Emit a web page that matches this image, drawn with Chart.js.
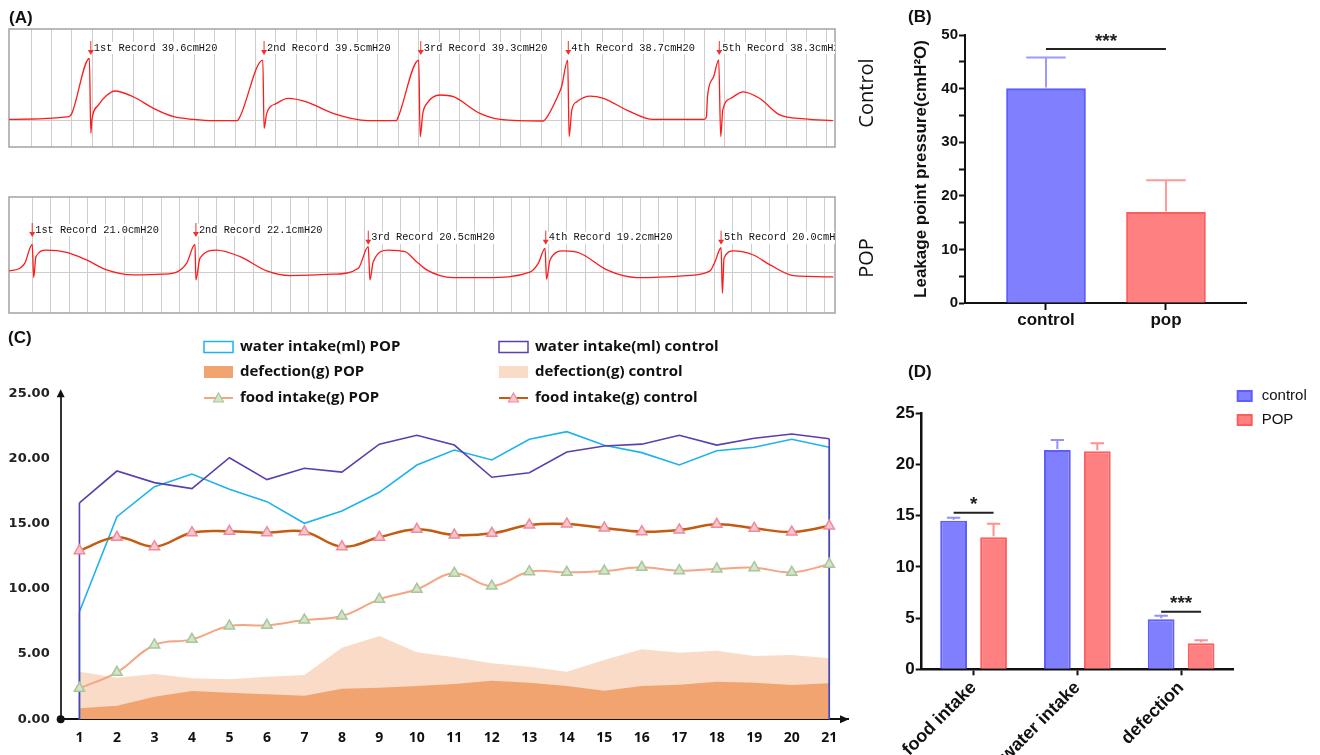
<!DOCTYPE html>
<html lang="en">
<head>
<meta charset="UTF-8">
<title>Leakage point pressure and daily intake</title>
<style>
  body { margin: 0; background: #fff; }
  #wrap { position: relative; width: 1320px; height: 755px; overflow: hidden; font-family: "Liberation Sans", Arial, sans-serif; }
  canvas { position: absolute; }
  .tag { position: absolute; font-weight: bold; font-size: 17px; color: #111; line-height: 20px; }
  .side { position: absolute; font-family: "Open Sans", sans-serif; font-size: 20px; color: #111; white-space: nowrap; transform: translate(-50%, -50%) rotate(-90deg); }
</style>
</head>
<body>
<div id="wrap">
  <canvas id="traceCtl" width="850" height="160" style="left:0;top:0"></canvas>
  <canvas id="tracePop" width="850" height="140" style="left:0;top:185px"></canvas>
  <canvas id="lpp" width="470" height="330" style="left:850px;top:0"></canvas>
  <canvas id="daily" width="860" height="425" style="left:0;top:330px"></canvas>
  <canvas id="means" width="460" height="395" style="left:860px;top:360px"></canvas>
  <div class="tag" style="left:9px;top:8px">(A)</div>
  <div class="tag" style="left:908px;top:7px">(B)</div>
  <div class="tag" style="left:8px;top:328px">(C)</div>
  <div class="tag" style="left:908px;top:362px">(D)</div>
  <div class="side" style="left:865px;top:93px">Control</div>
  <div class="side" style="left:865px;top:258px">POP</div>
</div>

<script src="https://cdn.jsdelivr.net/npm/chart.js"></script>
<script>
  // ---- (A) cystometry traces: [time in grid divisions, cmH2O]
  const ctlTrace = [
    [-1.08, 1.0], [1.86, 2.7], [2.0, 4.8], [2.86, 39.4], [2.93, -7.7], [2.98, 0.6], [3.3, 10], [3.7, 16], [4.1, 18.9],
    [5.0, 15.3], [6.0, 8.0], [7.0, 2.7], [7.96, 1.0], [8.94, 0.2], [10.1, 0.2],
    [10.24, 2.7], [11.36, 38.4], [11.42, -4.6], [11.55, 4.8], [12.04, 11.1], [12.6, 14.3], [13.5, 12.1], [14.8, 4.8],
    [16.5, 0.2], [17.9, 0.2],
    [18.0, 2.7], [19.0, 38.4], [19.07, -9.9], [19.2, 4.8], [19.4, 11.1], [20.05, 16.4], [20.7, 15.3], [22.0, 4.8],
    [23.0, 1.0], [25.1, 0],
    [25.3, 2.7], [25.8, 15.3], [26.0, 21.6], [26.3, 38.4], [26.37, -9.9], [26.5, 6.9], [26.75, 12.1], [27.4, 15.7],
    [28.05, 14.3], [29.2, 6.9], [30.5, 1.0], [33.0, 1.0],
    [33.1, 2.7], [33.15, 15.3], [33.45, 27.9], [33.7, 38.4], [33.8, -9.9], [33.9, 6.9], [34.3, 14.3], [34.9, 18.4],
    [35.7, 14.3], [36.7, 3.8], [37.9, 1.3], [39.3, 0.2]
  ];
  const popTrace = [
    [-1.25, 1.3], [-0.67, 3.2], [-0.4, 7.0], [0, 21.0], [0.08, -3.7], [0.2, 11.9], [0.78, 16.8], [1.87, 15.1],
    [2.95, 9.4], [4.04, 2.0], [5.48, -1.7], [7.1, -1.2], [7.83, 0.3],
    [8.38, 7.0], [8.83, 21.0], [8.88, -5.4], [9.1, 10.7], [10.0, 16.8], [11.27, 11.9], [12.72, 1.3], [13.98, -2.2],
    [16.33, -1.2], [17.69, 3.2],
    [18.23, 19.3], [18.32, -5.4], [18.5, 8.1], [19.32, 16.8], [20.22, 15.6], [20.85, 8.1], [21.4, 2.0], [22.12, -2.2],
    [22.84, -3.7], [24.66, -3.7], [27.0, 0.3],
    [27.46, 7.0], [27.82, 18.1], [27.9, -4.9], [28.09, 9.4], [28.81, 16.1], [29.72, 14.4], [31.17, 2.0], [32.8, -3.7],
    [35.5, -2.2], [36.77, 1.3],
    [37.04, 8.1], [37.37, 18.5], [37.44, -15.3], [37.53, 10.7], [38.04, 16.1], [39.12, 13.1], [40.03, 5.7],
    [41.29, -2.2], [43.46, -3.2]
  ];
  const ctlRecordAt = [2.93, 11.42, 19.1, 26.33, 33.73];
  const ctlRecords = ['1st Record 39.6cmH20', '2nd Record 39.5cmH20', '3rd Record 39.3cmH20', '4th Record 38.7cmH20', '5th Record 38.3cmH20'];
  const popRecordAt = [0, 8.88, 18.23, 27.86, 37.37];
  const popRecords = ['1st Record 21.0cmH20', '2nd Record 22.1cmH20', '3rd Record 20.5cmH20', '4th Record 19.2cmH20', '5th Record 20.0cmH20'];

  // ---- (B) leakage point pressure
  const lppGroups = ['control', 'pop'];
  const lppMean = [40.0, 16.9];
  const lppErr = [5.8, 6.0];

  // ---- (C) daily records
  const days = [1, 2, 3, 4, 5, 6, 7, 8, 9, 10, 11, 12, 13, 14, 15, 16, 17, 18, 19, 20, 21];
  const waterCtl = [16.6, 19.04, 18.15, 17.69, 20.06, 18.38, 19.25, 18.96, 21.1, 21.78, 21.03, 18.56, 18.91, 20.5, 20.96, 21.1, 21.78, 21.03, 21.55, 21.88, 21.52];
  const waterPop = [8.25, 15.54, 17.84, 18.81, 17.64, 16.69, 15.03, 15.97, 17.41, 19.5, 20.65, 19.89, 21.47, 22.06, 21.01, 20.45, 19.5, 20.6, 20.86, 21.47, 20.86];
  const foodCtl = [12.93, 13.96, 13.24, 14.31, 14.42, 14.31, 14.39, 13.24, 13.96, 14.57, 14.13, 14.26, 14.9, 14.98, 14.67, 14.39, 14.52, 14.95, 14.65, 14.36, 14.82];
  const foodPop = [2.38, 3.6, 5.7, 6.13, 7.15, 7.21, 7.61, 7.92, 9.2, 9.97, 11.2, 10.22, 11.32, 11.27, 11.37, 11.66, 11.4, 11.53, 11.63, 11.27, 11.89];
  const defCtl = [3.65, 3.19, 3.47, 3.14, 3.07, 3.27, 3.4, 5.49, 6.39, 5.14, 4.75, 4.29, 4.03, 3.65, 4.55, 5.37, 5.11, 5.26, 4.85, 4.93, 4.68];
  const defPop = [0.84, 1.04, 1.73, 2.17, 2.04, 1.92, 1.81, 2.35, 2.42, 2.55, 2.71, 2.96, 2.81, 2.55, 2.19, 2.55, 2.65, 2.88, 2.81, 2.63, 2.76];

  // ---- (D) means
  const measures = ['food intake', 'water intake', 'defection'];
  const ctlMean = [14.51, 21.42, 4.88];
  const ctlErr = [0.29, 0.97, 0.35];
  const popMean = [12.89, 21.29, 2.54];
  const popErr = [1.33, 0.78, 0.29];

  Chart.defaults.font.family = '"Liberation Sans", Arial, sans-serif';
  Chart.defaults.color = '#111';
  Chart.defaults.animation = false;
  Chart.defaults.events = [];
  Chart.defaults.plugins.legend.display = false;
  Chart.defaults.plugins.tooltip.enabled = false;

  /* plugins */
  const boxPlugin = {
    id: 'box',
    beforeDatasetsDraw(chart) {
      const { ctx, chartArea: a } = chart;
      ctx.save();
      ctx.strokeStyle = '#a3a3a3';
      ctx.lineWidth = 1.5;
      ctx.strokeRect(a.left, a.top, a.right - a.left, a.bottom - a.top);
      ctx.restore();
    }
  };

  const recordPlugin = {
    id: 'records',
    afterDatasetsDraw(chart, args, opts) {
      const { ctx, chartArea: a, scales: { x } } = chart;
      ctx.save();
      ctx.beginPath();
      ctx.rect(a.left, a.top, a.right - a.left, a.bottom - a.top);
      ctx.clip();
      ctx.font = '10.3px "Liberation Mono", monospace';
      ctx.textBaseline = 'middle';
      opts.at.forEach((v, i) => {
        const px = x.getPixelForValue(v), py = opts.rowY[i];
        const w = ctx.measureText(opts.text[i]).width;
        ctx.fillStyle = '#fff';
        ctx.fillRect(px + 2, py - 6, w + 3, 12);
        ctx.fillStyle = '#111';
        ctx.fillText(opts.text[i], px + 3, py);
        ctx.strokeStyle = '#f03030';
        ctx.fillStyle = '#f03030';
        ctx.lineWidth = 1;
        ctx.beginPath(); ctx.moveTo(px, py - 7); ctx.lineTo(px, py + 4); ctx.stroke();
        ctx.beginPath(); ctx.moveTo(px - 3, py + 2); ctx.lineTo(px, py + 7); ctx.lineTo(px + 3, py + 2); ctx.closePath(); ctx.fill();
      });
      ctx.restore();
    }
  };

  const errPlugin = {
    id: 'errbars',
    afterDatasetsDraw(chart, args, opts) {
      const { ctx, scales: { y } } = chart;
      ctx.save();
      ctx.lineWidth = 2;
      chart.data.datasets.forEach((ds, di) => {
        chart.getDatasetMeta(di).data.forEach((bar, i) => {
          const v = ds.data[i], mean = typeof v === 'object' ? v.y : v;
          const top = y.getPixelForValue(mean + opts.err[di][i]);
          const half = bar.width / 4;
          ctx.strokeStyle = opts.color[di][i];
          ctx.beginPath();
          ctx.moveTo(bar.x, bar.y - 1); ctx.lineTo(bar.x, top);
          ctx.moveTo(bar.x - half, top); ctx.lineTo(bar.x + half, top);
          ctx.stroke();
        });
      });
      ctx.restore();
    }
  };

  const sigPlugin = {
    id: 'sig',
    afterDatasetsDraw(chart, args, opts) {
      const { ctx, scales: { y } } = chart;
      ctx.save();
      opts.marks.forEach(m => {
        const a = chart.getDatasetMeta(m.a[0]).data[m.a[1]];
        const b = chart.getDatasetMeta(m.b[0]).data[m.b[1]];
        const py = y.getPixelForValue(m.y);
        ctx.strokeStyle = '#222';
        ctx.lineWidth = 2;
        ctx.beginPath(); ctx.moveTo(a.x, py); ctx.lineTo(b.x, py); ctx.stroke();
        ctx.fillStyle = '#222';
        ctx.font = 'bold 19px "Liberation Sans"';
        ctx.textAlign = 'center';
        ctx.textBaseline = 'bottom';
        ctx.fillText(m.text, (a.x + b.x) / 2, py + 2);
      });
      ctx.restore();
    }
  };

  // outline edges of the water "areas" down to zero
  const edgePlugin = {
    id: 'edges',
    afterDatasetDraw(chart, args) {
      const ds = chart.data.datasets[args.index];
      if (!ds.edges) return;
      const { ctx, scales: { y } } = chart;
      const y0 = y.getPixelForValue(0);
      const pts = args.meta.data;
      ctx.save();
      ctx.strokeStyle = ds.borderColor;
      ctx.lineWidth = ds.borderWidth;
      [pts[0], pts[pts.length - 1]].forEach(p => {
        ctx.beginPath(); ctx.moveTo(p.x, p.y); ctx.lineTo(p.x, y0); ctx.stroke();
      });
      ctx.restore();
    }
  };

  const axisDeco = {
    id: 'axisDeco',
    afterDraw(chart) {
      const { ctx, chartArea: a } = chart;
      ctx.save();
      ctx.fillStyle = '#111';
      ctx.beginPath(); ctx.moveTo(a.left, a.top - 4); ctx.lineTo(a.left - 4, a.top + 4); ctx.lineTo(a.left + 4, a.top + 4); ctx.closePath(); ctx.fill();
      ctx.beginPath(); ctx.moveTo(a.right + 1, a.bottom); ctx.lineTo(a.right - 8, a.bottom - 4); ctx.lineTo(a.right - 8, a.bottom + 4); ctx.closePath(); ctx.fill();
      ctx.beginPath(); ctx.arc(a.left, a.bottom, 4, 0, Math.PI * 2); ctx.fill();
      ctx.restore();
    }
  };

  const legendC = {
    id: 'legendC',
    afterDraw(chart, args, opts) {
      const ctx = chart.ctx;
      ctx.save();
      ctx.font = 'bold 15px "Open Sans"';
      ctx.textBaseline = 'middle';
      opts.items.forEach(([di, col, row]) => {
        const ds = chart.data.datasets[di];
        const x = opts.cols[col], y = opts.rows[row];
        if (ds.fill) {
          ctx.fillStyle = ds.backgroundColor;
          ctx.fillRect(x, y - 6, 29, 12);
        } else if (ds.edges) {
          ctx.strokeStyle = ds.borderColor;
          ctx.lineWidth = 1.5;
          ctx.strokeRect(x, y - 5.5, 29, 11);
        } else {
          ctx.strokeStyle = ds.borderColor;
          ctx.lineWidth = 2;
          ctx.beginPath(); ctx.moveTo(x, y); ctx.lineTo(x + 29, y); ctx.stroke();
          ctx.fillStyle = ds.pointBackgroundColor;
          ctx.strokeStyle = ds.pointBorderColor;
          ctx.lineWidth = 1.2;
          ctx.beginPath(); ctx.moveTo(x + 14.5, y - 5); ctx.lineTo(x + 19.5, y + 4); ctx.lineTo(x + 9.5, y + 4); ctx.closePath();
          ctx.fill(); ctx.stroke();
        }
        ctx.fillStyle = '#111';
        ctx.fillText(ds.label, x + 36, y);
      });
      ctx.restore();
    }
  };

  const legendD = {
    id: 'legendD',
    afterDraw(chart, args, opts) {
      const ctx = chart.ctx;
      ctx.save();
      ctx.font = '15px "Liberation Sans"';
      ctx.textBaseline = 'middle';
      chart.data.datasets.forEach((ds, i) => {
        const y = opts.y + i * opts.gap;
        ctx.fillStyle = ds.backgroundColor;
        ctx.strokeStyle = ds.borderColor;
        ctx.lineWidth = 2;
        ctx.fillRect(opts.x, y - 5, 14, 10);
        ctx.strokeRect(opts.x, y - 5, 14, 10);
        ctx.fillStyle = '#111';
        ctx.fillText(ds.label, opts.x + 24, y);
      });
      ctx.restore();
    }
  };

  /* (A) */
  function traceChart(id, trace, o) {
    return new Chart(document.getElementById(id), {
      type: 'line',
      data: {
        datasets: [{
          data: trace.map(p => ({ x: p[0], y: p[1] })),
          borderColor: '#ff1a1a', borderWidth: 1.3, pointRadius: 0,
          cubicInterpolationMode: 'monotone'
        }]
      },
      options: {
        responsive: false,
        layout: { padding: o.pad },
        plugins: { records: { at: o.at, text: o.text, rowY: o.rowY } },
        scales: {
          x: {
            type: 'linear', min: o.xMin, max: o.xMax,
            afterBuildTicks: s => {
              const t = [];
              for (let i = 0; i < o.xMax; i++) t.push({ value: i });
              s.ticks = t;
            },
            afterFit: s => { s.height = 0; },
            ticks: { display: false },
            border: { display: false },
            grid: { color: '#cdcdcd', drawTicks: false }
          },
          y: {
            min: o.yMin, max: o.yMax,
            afterBuildTicks: s => { s.ticks = [{ value: 0 }]; },
            afterFit: s => { s.width = 0; },
            ticks: { display: false },
            border: { display: false },
            grid: { color: '#cdcdcd', drawTicks: false }
          }
        }
      },
      plugins: [boxPlugin, recordPlugin]
    });
  }

  traceChart('traceCtl', ctlTrace, {
    pad: { left: 9, top: 29, right: 15, bottom: 13 },
    xMin: -1.08, xMax: 39.4, yMin: -16.4, yMax: 58,
    at: ctlRecordAt, text: ctlRecords, rowY: [48, 48, 48, 48, 48]
  });
  traceChart('tracePop', popTrace, {
    pad: { left: 9, top: 12, right: 15, bottom: 12 },
    xMin: -1.26, xMax: 43.55, yMin: -30.1, yMax: 56.3,
    at: popRecordAt, text: popRecords, rowY: [45, 45, 52.7, 52.7, 52.7]
  });

  /* (B) */
  new Chart(document.getElementById('lpp'), {
    type: 'bar',
    data: {
      datasets: [{
        data: lppMean.map((v, i) => ({ x: i, y: v })),
        backgroundColor: ['#8080ff', '#ff8080'],
        borderColor: ['#5c5cff', '#ff5c5c'],
        borderWidth: 2,
        barThickness: 79
      }]
    },
    options: {
      responsive: false,
      layout: { padding: { top: 35, right: 74, left: 0, bottom: 0 } },
      plugins: {
        errbars: { err: [lppErr], color: [['#9a9aff', '#ff9a9a']] },
        sig: { marks: [{ a: [0, 0], b: [0, 1], y: 47.4, text: '***' }] }
      },
      scales: {
        x: {
          type: 'linear', min: -0.675, max: 1.667, offset: false,
          afterBuildTicks: s => { s.ticks = lppGroups.map((g, i) => ({ value: i })); },
          afterFit: s => { s.height = 27; },
          ticks: { callback: v => lppGroups[v], font: { size: 17, weight: 'bold' }, padding: 0, color: '#111' },
          grid: { offset: false, drawOnChartArea: false, tickLength: 7, tickWidth: 2, tickColor: '#111' },
          border: { color: '#111', width: 2 }
        },
        y: {
          min: 0, max: 50,
          afterFit: s => { s.width = 115; },
          ticks: { stepSize: 5, callback: v => (v % 10 === 0 ? v : ''), font: { size: 15, weight: 'bold' }, padding: 1, color: '#111' },
          grid: { drawOnChartArea: false, tickLength: 6, tickWidth: 2, tickColor: '#111' },
          border: { color: '#111', width: 2 },
          title: {
            display: true, text: 'Leakage point pressure(cmH²O)',
            font: { size: 17, weight: 'bold' }, color: '#111', padding: { top: 61, bottom: 0 }
          }
        }
      }
    },
    plugins: [errPlugin, sigPlugin]
  });

  /* (C) */
  const pts = arr => arr.map((v, i) => ({ x: days[i], y: v }));
  new Chart(document.getElementById('daily'), {
    type: 'line',
    data: {
      datasets: [
        { label: 'food intake(g) control', data: pts(foodCtl), borderColor: '#c55a11', borderWidth: 2.5, tension: 0.4,
          pointStyle: 'triangle', pointRadius: 6, pointBackgroundColor: '#f8c6cd', pointBorderColor: '#ee8c9a', pointBorderWidth: 1.5 },
        { label: 'food intake(g) POP', data: pts(foodPop), borderColor: '#f4a582', borderWidth: 2, tension: 0.4,
          pointStyle: 'triangle', pointRadius: 6, pointBackgroundColor: '#d5e3c9', pointBorderColor: '#a8c69a', pointBorderWidth: 1.5 },
        { label: 'water intake(ml) control', data: pts(waterCtl), borderColor: '#5b3fae', borderWidth: 1.6, pointRadius: 0, tension: 0, edges: true },
        { label: 'water intake(ml) POP', data: pts(waterPop), borderColor: '#1eb2ee', borderWidth: 1.6, pointRadius: 0, tension: 0, edges: true },
        { label: 'defection(g) POP', data: pts(defPop), fill: 'origin', backgroundColor: '#f1a470', borderColor: 'transparent', borderWidth: 0, pointRadius: 0, tension: 0 },
        { label: 'defection(g) control', data: pts(defCtl), fill: 'origin', backgroundColor: '#f9dbc7', borderColor: 'transparent', borderWidth: 0, pointRadius: 0, tension: 0 }
      ]
    },
    options: {
      responsive: false,
      layout: { padding: { top: 63.3, right: 12, left: 0, bottom: 0 } },
      plugins: {
        legendC: {
          cols: [204, 499], rows: [17, 42, 68],
          items: [[3, 0, 0], [4, 0, 1], [1, 0, 2], [2, 1, 0], [5, 1, 1], [0, 1, 2]]
        }
      },
      scales: {
        x: {
          type: 'linear', min: 0.5, max: 21.5,
          afterBuildTicks: s => { s.ticks = days.map(d => ({ value: d })); },
          afterFit: s => { s.height = 35.7; },
          ticks: { font: { family: '"Open Sans"', size: 14, weight: 'bold' }, padding: 2, color: '#111' },
          grid: { display: false },
          border: { color: '#111', width: 2 }
        },
        y: {
          min: 0, max: 25,
          afterFit: s => { s.width = 60.7; },
          ticks: { stepSize: 5, callback: v => v.toFixed(2), font: { family: '"DejaVu Sans"', size: 13, weight: 'bold' }, padding: 3, color: '#222' },
          grid: { display: false },
          border: { color: '#333', width: 2 }
        }
      }
    },
    plugins: [edgePlugin, axisDeco, legendC]
  });

  /* (D) */
  new Chart(document.getElementById('means'), {
    type: 'bar',
    data: {
      labels: measures,
      datasets: [
        { label: 'control', data: ctlMean, backgroundColor: '#8080ff', borderColor: '#5c5cff', borderWidth: 2, categoryPercentage: 0.77, barPercentage: 0.67 },
        { label: 'POP', data: popMean, backgroundColor: '#ff8080', borderColor: '#ff5c5c', borderWidth: 2, categoryPercentage: 0.77, barPercentage: 0.67 }
      ]
    },
    options: {
      responsive: false,
      layout: { padding: { top: 53.3, right: 87, left: 0, bottom: 0 } },
      plugins: {
        errbars: { err: [ctlErr, popErr], color: [['#9090ff', '#9090ff', '#9090ff'], ['#ff9090', '#ff9090', '#ff9090']] },
        sig: { marks: [{ a: [0, 0], b: [1, 0], y: 15.29, text: '*' }, { a: [0, 2], b: [1, 2], y: 5.63, text: '***' }] },
        legendD: { x: 377.7, y: 36, gap: 24 }
      },
      scales: {
        x: {
          afterFit: s => { s.height = 85.7; s.paddingLeft = 0; s.paddingRight = 0; },
          ticks: { minRotation: 45, maxRotation: 45, font: { size: 18, weight: 'bold' }, padding: 2, color: '#111' },
          grid: { offset: false, drawOnChartArea: false, tickLength: 6, tickWidth: 2, tickColor: '#111' },
          border: { color: '#111', width: 2.5 }
        },
        y: {
          min: 0, max: 25,
          afterFit: s => { s.width = 61.7; },
          ticks: { stepSize: 5, font: { size: 17, weight: 'bold' }, padding: 1, color: '#111' },
          grid: { drawOnChartArea: false, tickLength: 6, tickWidth: 2, tickColor: '#111' },
          border: { color: '#111', width: 2.5 }
        }
      }
    },
    plugins: [errPlugin, sigPlugin, legendD]
  });
</script>
</body>
</html>
